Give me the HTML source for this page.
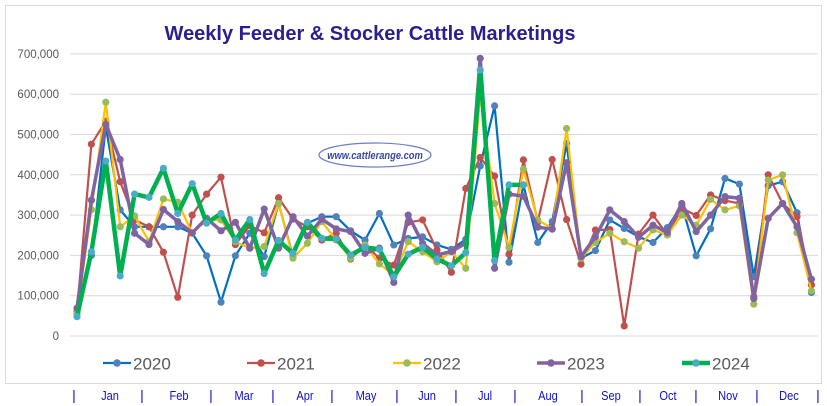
<!DOCTYPE html>
<html><head><meta charset="utf-8"><style>
html,body{margin:0;padding:0;background:#fff;}
svg{display:block;font-family:"Liberation Sans",sans-serif;}
</style></head><body>
<svg id="c" width="827" height="406" viewBox="0 0 827 406" xmlns="http://www.w3.org/2000/svg">
<rect x="0" y="0" width="827" height="406" fill="#fff"/>
<rect x="5.5" y="5.5" width="816" height="378" fill="#fff" stroke="#d9d9d9"/>
<text x="370" y="40" text-anchor="middle" font-size="20" font-weight="bold" fill="#2A1F8F">Weekly Feeder &amp; Stocker Cattle Marketings</text>
<g id="grid"></g>
<ellipse cx="375" cy="155" rx="56" ry="12" fill="#fff" stroke="#6C7FC4" stroke-width="1.2"/>
<text x="375" y="159" text-anchor="middle" font-size="11" font-weight="bold" font-style="italic" fill="#3848A0" transform="translate(375 0) scale(0.85 1) translate(-375 0)">www.cattlerange.com</text>
<g id="series"></g>
<g id="legend"></g>
<g id="months" fill="#1010C8" font-size="14"></g>
</svg>
<script>
var NS="http://www.w3.org/2000/svg";
function el(p,t,a,txt){var e=document.createElementNS(NS,t);for(var k in a)e.setAttribute(k,a[k]);if(txt!=null)e.textContent=txt;p.appendChild(e);return e;}
var g=document.getElementById('grid');
function Y(v){return 336-v*0.403;}
for(var i=0;i<=7;i++){var y=Y(i*100);el(g,'line',{x1:70,x2:818,y1:y,y2:y,stroke:'#d9d9d9','stroke-width':1});
el(g,'text',{x:59,y:y+4,'text-anchor':'end','font-size':11.5,fill:'#595959'},i==0?'0':(i*100)+',000');}
var d={
b:[60,200,519,313,271,271,271,271,255,199,84,199,255,197,329,197,280,296,296,261,238,304,226,242,246,226,215,240,422,571,183,375,232,284,478,193,212,288,267,246,232,269,325,199,266,391,377,147,373,383,306,108],
r:[60,476,533,383,288,271,208,96,300,352,394,227,274,256,343,290,271,238,255,191,226,193,176,282,288,213,158,366,443,397,203,437,284,438,289,178,263,264,25,253,300,251,317,299,350,336,329,98,400,329,296,127],
y:[56,313,580,271,298,234,340,332,255,288,288,234,218,222,329,193,230,284,238,193,226,179,151,234,209,184,209,168,600,329,220,414,288,267,515,193,232,255,234,218,263,251,300,275,339,313,323,79,387,400,256,112],
p:[69,337,525,438,255,227,314,284,256,292,261,282,218,315,218,296,248,290,266,259,205,218,133,300,230,201,210,230,689,168,352,347,270,265,430,197,246,313,284,245,275,257,329,259,300,346,342,93,292,329,271,141],
g:[48,209,434,149,352,344,416,304,378,280,304,238,289,155,237,205,282,242,241,201,220,215,147,203,220,191,174,207,660,187,375,375]};
var S=[['b','#0070C0','#4F81BD',2.2],['r','#C0504D','#C0504D',2.2],['y','#FFC000','#9BBB59',2.2],['p','#8064A2','#8064A2',3.5],['g','#00B050','#4BACC6',4.5]];
var sg=document.getElementById('series');
function X(i){return 77+i*14.4;}
S.forEach(function(s){var a=d[s[0]];var pts=a.map(function(v,i){return X(i).toFixed(1)+','+Y(v).toFixed(1);}).join(' ');
el(sg,'polyline',{points:pts,fill:'none',stroke:s[1],'stroke-width':s[3],'stroke-linejoin':'round'});
a.forEach(function(v,i){el(sg,'circle',{cx:X(i),cy:Y(v),r:3.6,fill:s[2]});});});
var lg=document.getElementById('legend');var lx=[117,261,407,551,696],names=['2020','2021','2022','2023','2024'];
S.forEach(function(s,k){var x=lx[k];el(lg,'line',{x1:x-14,x2:x+14,y1:363,y2:363,stroke:s[1],'stroke-width':s[3]});
el(lg,'circle',{cx:x,cy:363,r:3.8,fill:s[2]});el(lg,'text',{x:x+16,y:369.5,'font-size':17,fill:'#595959'},names[k]);});
var mg=document.getElementById('months');
[74,142,211,273,332,397,456,515,582,640,696,757,818].forEach(function(x){el(mg,'text',{x:x,y:400,'text-anchor':'middle'},'|');});
var mn=['Jan','Feb','Mar','Apr','May','Jun','Jul','Aug','Sep','Oct','Nov','Dec'],mx=[110,179,244,305,366,427,485,548,611,668,728,789];
mn.forEach(function(m,i){el(mg,'text',{x:mx[i],y:400,'text-anchor':'middle','font-size':13,transform:'translate('+mx[i]+' 0) scale(0.85 1) translate('+(-mx[i])+' 0)'},m);});
</script>
</body></html>
